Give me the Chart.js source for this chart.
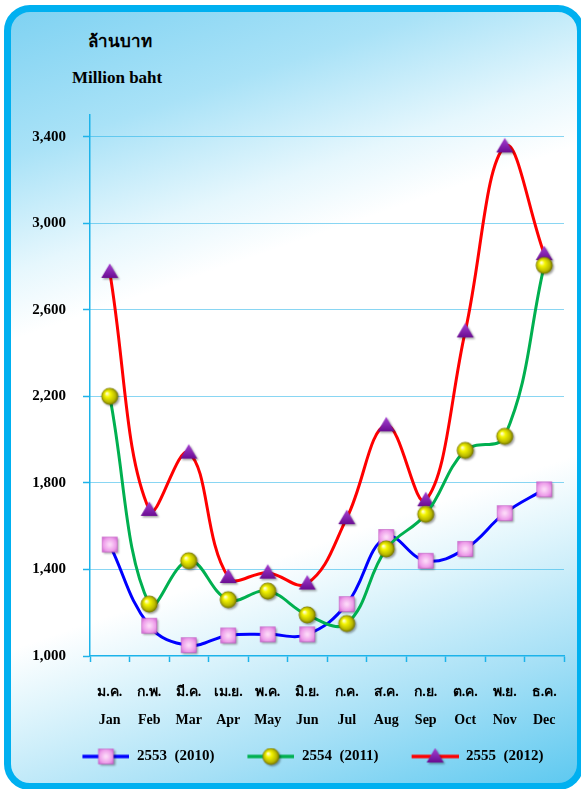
<!DOCTYPE html>
<html>
<head>
<meta charset="utf-8">
<script src="https://cdn.jsdelivr.net/npm/chart.js@4.4.1/dist/chart.umd.min.js"></script>
<style>
  html, body { margin:0; padding:0; width:581px; height:789px; overflow:hidden; background:#ffffff; }
  #frame {
    position:absolute; left:4px; top:5px; width:580px; height:785px; box-sizing:border-box;
    border:7px solid #00b0f0; border-radius:26px;
    background: linear-gradient(161deg, #7fd2f2 0%, #a9e2f7 15%, #e6f7fd 27%, #ffffff 34%, #ffffff 66%, #e0f5fc 73%, #a6e0f6 86%, #5ec9f0 100%);
  }
  #c { position:absolute; left:0; top:0; }
  .t { position:absolute; color:#000; font-family:'Liberation Serif','Times New Roman',serif; font-weight:bold; white-space:nowrap; }
</style>
</head>
<body>
<div id="frame"></div>
<div class="t" style="left:88px; top:30px; font-size:17px; line-height:24px;">ล้านบาท</div>
<div class="t" style="left:72px; top:67px; font-size:17px; line-height:22px;">Million baht</div>
<canvas id="c" width="581" height="789"></canvas>
<script>
// ---- data ----
const monthsTh = ['ม.ค.','ก.พ.','มี.ค.','เม.ย.','พ.ค.','มิ.ย.','ก.ค.','ส.ค.','ก.ย.','ต.ค.','พ.ย.','ธ.ค.'];
const monthsEn = ['Jan','Feb','Mar','Apr','May','Jun','Jul','Aug','Sep','Oct','Nov','Dec'];
const seriesNames = ['2553  (2010)','2554  (2011)','2555  (2012)'];
const yTickValues = [1000, 1400, 1800, 2200, 2600, 3000, 3400];
const values2010 = [1515, 1140, 1050, 1095, 1100, 1100, 1240, 1550, 1440, 1495, 1660, 1770];
const values2011 = [2200, 1240, 1440, 1260, 1300, 1190, 1150, 1495, 1655, 1950, 2015, 2805];
const values2012 = [2775, 1675, 1940, 1365, 1385, 1335, 1637, 2066, 1720, 2500, 3355, 2857];

// ---- marker images ----
function mk(w, h, draw) {
  const c = document.createElement('canvas'); c.width = w; c.height = h;
  draw(c.getContext('2d'), w / 2, h / 2); return c;
}
function shadow(g) { g.shadowColor = 'rgba(0,0,0,0.35)'; g.shadowBlur = 2; g.shadowOffsetX = 1.5; g.shadowOffsetY = 1.5; }
function drawSquare(g, cx, cy) {
  g.save(); shadow(g);
  const s = 15;
  const gr = g.createRadialGradient(cx, cy, 1, cx, cy, 10);
  gr.addColorStop(0, '#fcd8f8'); gr.addColorStop(0.6, '#ee9eea'); gr.addColorStop(1, '#cf63cf');
  g.fillStyle = gr; g.fillRect(cx - s/2, cy - s/2, s, s);
  g.restore();
  g.strokeStyle = 'rgba(190,80,190,0.6)'; g.lineWidth = 0.8; g.strokeRect(cx - s/2, cy - s/2, s, s);
}
function drawSphere(g, cx, cy) {
  g.save(); shadow(g);
  const r = 8.5;
  const gr = g.createRadialGradient(cx - 3, cy - 3, 0.5, cx, cy, r);
  gr.addColorStop(0, '#ffffd8'); gr.addColorStop(0.3, '#f4f400'); gr.addColorStop(0.75, '#b9b900'); gr.addColorStop(1, '#6e6e00');
  g.fillStyle = gr; g.beginPath(); g.arc(cx, cy, r, 0, Math.PI * 2); g.fill();
  g.restore();
}
function drawTri(g, cx, cy) {
  g.save(); shadow(g);
  const gr = g.createLinearGradient(cx, cy - 8, cx, cy + 6);
  gr.addColorStop(0, '#a43fd0'); gr.addColorStop(1, '#6a0c92');
  g.fillStyle = gr; g.beginPath();
  g.moveTo(cx, cy - 8.5); g.lineTo(cx - 8.5, cy + 6); g.lineTo(cx + 8.5, cy + 6); g.closePath(); g.fill();
  g.restore();
}
const markerDraw = [drawSquare, drawSphere, drawTri];
const lineColors = ['#0000ff', '#00b050', '#ff0000'];
const pointImgs = markerDraw.map(d => mk(24, 24, d));
// legend symbol: transparent lead-in, then a line with the marker in its middle
const LEG_PAD = 32, LEG_LINE = 47;
const legendImgs = markerDraw.map((d, i) => mk(LEG_PAD + LEG_LINE, 24, (g, cx, cy) => {
  g.strokeStyle = lineColors[i]; g.lineWidth = 3.5; g.beginPath(); g.moveTo(LEG_PAD, cy); g.lineTo(LEG_PAD + LEG_LINE, cy); g.stroke();
  d(g, LEG_PAD + LEG_LINE / 2, cy);
}));

const FAM = "'Liberation Serif','Times New Roman',serif";
const AXIS = '#1cb3ea';

new Chart(document.getElementById('c'), {
  type: 'line',
  data: {
    labels: monthsTh.map((t, i) => [t, monthsEn[i]]),
    datasets: [
      { label: seriesNames[0], data: values2010, borderColor: lineColors[0], backgroundColor: lineColors[0], pointStyle: pointImgs[0], order: 1 },
      { label: seriesNames[1], data: values2011, borderColor: lineColors[1], backgroundColor: lineColors[1], pointStyle: pointImgs[1], order: 0 },
      { label: seriesNames[2], data: values2012, borderColor: lineColors[2], backgroundColor: lineColors[2], pointStyle: pointImgs[2], order: 2 }
    ]
  },
  options: {
    responsive: false, animation: false, devicePixelRatio: 1,
    layout: { padding: { left: 30, right: 17, top: 115, bottom: 15 } },
    elements: { line: { tension: 0.4, borderWidth: 3, fill: false }, point: { radius: 8 } },
    scales: {
      x: {
        offset: true,
        grid: { offset: true, drawOnChartArea: false, drawTicks: true, tickLength: 6, tickColor: AXIS, tickWidth: 1.5 },
        border: { color: AXIS, width: 1.5 },
        ticks: { color: '#000', autoSkip: false, maxRotation: 0, padding: 16, font: { family: FAM, size: 14, weight: 'bold', lineHeight: '28px' } },
        afterFit: s => { s.height = 92; }
      },
      y: {
        min: 1000, max: 3500,
        afterBuildTicks: s => { s.ticks = yTickValues.map(v => ({ value: v })); },
        ticks: { color: '#000', padding: 17,
          font: { family: FAM, size: 15, weight: 'bold' },
          callback: v => Number(v).toLocaleString('en-US') },
        grid: { color: c => (c.tick && c.tick.value === 1000) ? 'rgba(0,0,0,0)' : '#12ace6', lineWidth: 1, tickLength: 7, tickColor: AXIS, tickWidth: 1.5, tickBorderDash: [] },
        border: { color: AXIS, width: 1.5, dash: [1, 1] },
        afterFit: s => { s.width = 60; }
      }
    },
    plugins: {
      tooltip: { enabled: false },
      legend: {
        position: 'bottom',
        labels: {
          usePointStyle: true, pointStyleWidth: LEG_PAD + LEG_LINE, padding: 1, color: '#000',
          font: { family: FAM, size: 15, weight: 'bold' },
          generateLabels: chart => {
            const items = Chart.defaults.plugins.legend.labels.generateLabels(chart);
            items.sort((a, b) => a.datasetIndex - b.datasetIndex);
            items.forEach(it => { it.pointStyle = legendImgs[it.datasetIndex]; });
            return items;
          }
        }
      }
    }
  }
});
</script>
</body>
</html>
